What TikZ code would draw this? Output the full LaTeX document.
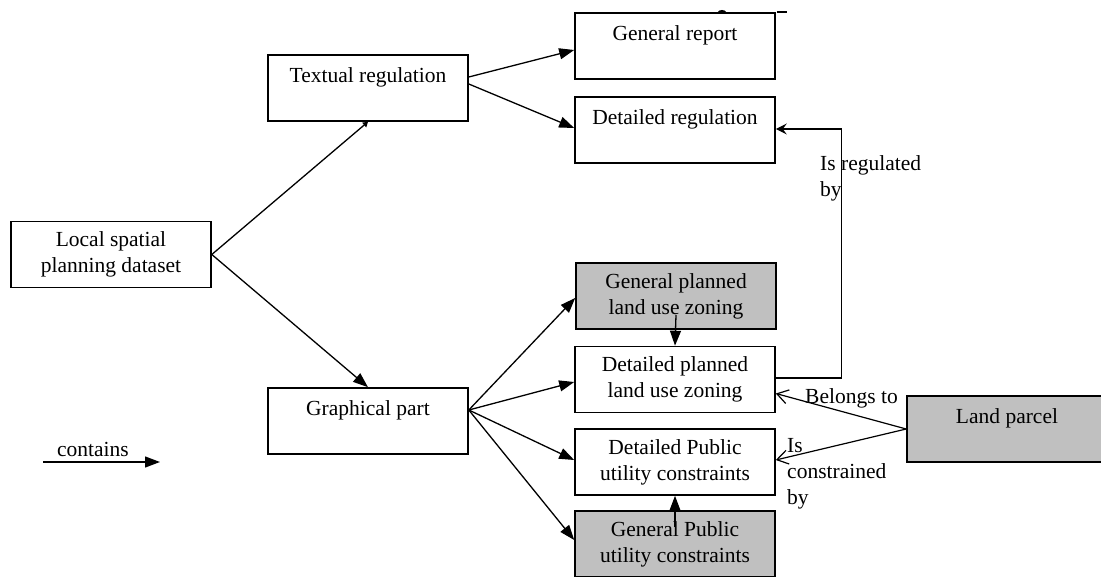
\documentclass[tikz,border=0pt]{standalone}
\usepackage{fontspec}
\setmainfont{Liberation Serif}
\usetikzlibrary{arrows.meta}
\definecolor{boxgrey}{RGB}{192,192,192}
\begin{document}
\begin{tikzpicture}[x=1pt,y=-1pt,
  font=\fontsize{21.5}{26}\selectfont,
  box/.style={draw, line width=1.6pt, minimum width=200pt, minimum height=66pt,
              inner sep=0pt, align=center},
  greybox/.style={box, fill=boxgrey},
  contains/.style={line width=1.3pt, -{Triangle[length=15pt,width=11pt]}},
  smallhead/.style={line width=1.3pt, -{Triangle[length=5pt,width=6pt]}},
  regulated/.style={line width=1.3pt, -{Stealth[length=11pt,width=11pt,inset=4pt]}},
  relation/.style={line width=1.2pt, -{Straight Barb[length=11pt,width=14pt]}},
  lbl/.style={inner sep=0pt, align=left}]

\useasboundingbox (0,0) rectangle (1101,577);
\clip (0,0) rectangle (1101,577);

% dataset structure
\node[box] (lsp) at (111,254.5) {Local spatial\\planning dataset};
\node[box] (tr)  at (368,88)    {Textual regulation\\ ~};
\node[box] (gp)  at (368,421)   {Graphical part\\ ~};

\node[box] (grp) at (675,46)    {General report\\ ~};
\node[box] (dr)  at (675,130)   {Detailed regulation\\ ~};

\node[greybox] (gpl) at (676,296) {General planned\\land use zoning};
\node[box]     (dpl) at (675,379.5) {Detailed planned\\land use zoning};
\node[box]     (dpu) at (675,462) {Detailed Public\\utility constraints};
\node[greybox] (gpu) at (675,544) {General Public\\utility constraints};

\node[greybox] (lp) at (1007,429) {Land parcel\\ ~};

% "contains" links
\draw[smallhead] (lsp.east) -- (tr.south);
\draw[contains]  (lsp.east) -- (gp.north);
\draw[contains]  ([yshift=11pt]tr.east) -- ([yshift=-4pt]grp.west);
\draw[contains]  ([yshift=4pt]tr.east) -- ([yshift=2pt]dr.west);
\draw[contains]  ([yshift=11pt]gp.east) -- ([yshift=-2pt]gpl.west);
\draw[contains]  ([yshift=11pt]gp.east) -- ([yshift=-2.5pt]dpl.west);
\draw[contains]  ([yshift=11pt]gp.east) -- ([yshift=2pt]dpu.west);
\draw[contains]  ([yshift=11pt]gp.east) -- ([yshift=4pt]gpu.west);
\draw[contains]  ([yshift=-19pt]gpl.center) -- (dpl.north);
\draw[contains]  ([yshift=17pt]gpu.center) -- (dpu.south);

% other relations
\draw[regulated] ([yshift=1.5pt]dpl.east) -- ++(66,0) |- ([yshift=1pt]dr.east);
\draw[relation]  (lp.west) -- ([yshift=-14pt]dpl.east);
\draw[relation]  (lp.west) -- ([yshift=2pt]dpu.east);

\node[lbl, anchor=west] (lreg) at (820,178.5) {Is regulated\\by};
\node[lbl, anchor=west] (lbel) at (805,398) {Belongs to};
\node[lbl, anchor=west] (lcon) at (787,474) {Is\\constrained\\by};

% legend
\coordinate (legA) at (43,462);
\coordinate (legB) at (160,462);
\draw[contains] (legA) -- (legB);
\node[inner sep=0pt] (legT) at (93,449) {contains};

% remnants along the upper edge
\draw[line width=1.5pt] (777,12) -- (787,12);
\fill (722,12) ellipse (4pt and 2pt);
\end{tikzpicture}
\end{document}
